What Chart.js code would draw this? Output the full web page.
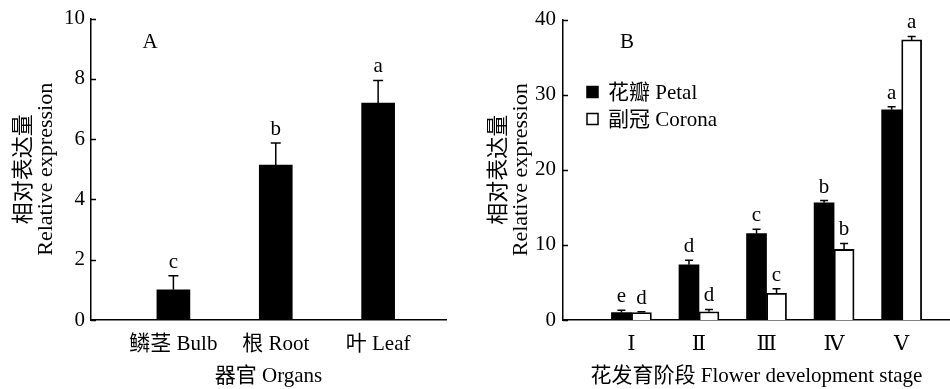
<!DOCTYPE html>
<html>
<head>
<meta charset="utf-8">
<title>Relative expression</title>
<script src="https://cdn.jsdelivr.net/npm/chart.js"></script>
<style>
  html, body { margin: 0; padding: 0; background: #fff; }
  #wrap { position: relative; width: 950px; height: 389px; }
  .panel { position: absolute; top: 0; width: 475px; height: 389px; }
</style>
</head>
<body>
<div id="wrap">
  <div class="panel" style="left:0"><canvas id="chartA" width="475" height="389"></canvas></div>
  <div class="panel" style="left:475px"><canvas id="chartB" width="475" height="389"></canvas></div>
</div>
<script>
// panel A: organs
const organs = ['鳞茎 Bulb', '根 Root', '叶 Leaf'];
const organMean = [1.0, 5.14, 7.2];
const organSd = [0.47, 0.73, 0.75];
const organLetters = ['c', 'b', 'a'];
const yTicksA = [0, 2, 4, 6, 8, 10];

// panel B: flower development stages
const stages = ['Ⅰ', 'Ⅱ', 'Ⅲ', 'Ⅳ', 'Ⅴ'];
const petalMean = [1.0, 7.35, 11.5, 15.6, 28.0];
const petalSd = [0.3, 0.6, 0.6, 0.3, 0.4];
const petalLetters = ['e', 'd', 'c', 'b', 'a'];
const coronaMean = [1.0, 1.1, 3.55, 9.4, 37.3];
const coronaSd = [0.1, 0.3, 0.6, 0.8, 0.45];
const coronaLetters = ['d', 'd', 'c', 'b', 'a'];
const yTicksB = [0, 10, 20, 30, 40];

const SERIF = "'Liberation Serif', 'Times New Roman', 'DejaVu Serif', 'Noto Sans CJK SC', serif";
Chart.defaults.font.family = SERIF;
Chart.defaults.font.size = 21;
Chart.defaults.color = '#000';

const toPoints = arr => arr.map((v, i) => ({ x: i, y: v }));

// error bars, letters, inward ticks, panel tag and legend
const decoPlugin = {
  id: 'deco',
  afterDatasetsDraw(chart, args, opts) {
    const ctx = chart.ctx;
    const y = chart.scales.y;
    const area = chart.chartArea;
    ctx.save();
    ctx.strokeStyle = '#000';
    ctx.fillStyle = '#000';
    ctx.lineWidth = 1.5;
    ctx.font = '21px ' + SERIF;
    ctx.textAlign = 'center';
    ctx.textBaseline = 'alphabetic';
    chart.data.datasets.forEach((ds, i) => {
      chart.getDatasetMeta(i).data.forEach((bar, j) => {
        const top = y.getPixelForValue(ds.data[j].y + ds.sd[j]);
        ctx.beginPath();
        ctx.moveTo(bar.x, bar.y);
        ctx.lineTo(bar.x, top);
        ctx.moveTo(bar.x - opts.cap, top);
        ctx.lineTo(bar.x + opts.cap, top);
        ctx.stroke();
        ctx.fillText(ds.letters[j], bar.x, top - 8);
      });
    });

    y.ticks.forEach(t => {
      const py = Math.round(y.getPixelForValue(t.value)) + 0.5;
      ctx.beginPath();
      ctx.moveTo(area.left, py);
      ctx.lineTo(area.left + 5, py);
      ctx.stroke();
    });

    ctx.textBaseline = 'middle';
    ctx.fillText(opts.tag, opts.tagX, opts.tagY);

    if (opts.legend) {
      ctx.textAlign = 'left';
      chart.data.datasets.forEach((ds, i) => {
        const ly = opts.legend.y + i * opts.legend.gap;
        ctx.fillStyle = ds.backgroundColor;
        ctx.fillRect(opts.legend.x, ly - 5.5, 11, 11);
        ctx.strokeRect(opts.legend.x, ly - 5.5, 11, 11);
        ctx.fillStyle = '#000';
        ctx.fillText(ds.label, opts.legend.x + 21, ly + 1);
      });
    }
    ctx.restore();
  }
};

function makeOptions(cfg) {
  return {
    responsive: false,
    animation: false,
    layout: { padding: cfg.padding },
    plugins: {
      legend: { display: false },
      tooltip: { enabled: false },
      deco: cfg.deco
    },
    scales: {
      x: {
        type: 'linear',
        offset: false,
        min: cfg.xMin,
        max: cfg.xMax,
        grid: { display: false, drawTicks: false },
        border: { display: true, color: '#000', width: 1.5 },
        afterBuildTicks: s => { s.ticks = cfg.labels.map((l, i) => ({ value: i })); },
        afterFit: s => { s.height = 69; },
        ticks: {
          padding: 12,
          autoSkip: false,
          maxRotation: 0,
          font: cfg.xTickFont,
          callback: v => cfg.labels[v]
        },
        title: { display: true, text: cfg.xTitle, padding: { top: 0, bottom: 0 }, font: { size: 21, lineHeight: 1.15 } }
      },
      y: {
        min: cfg.yTicks[0],
        max: cfg.yTicks[cfg.yTicks.length - 1],
        grid: { display: false, drawTicks: false },
        border: { display: true, color: '#000', width: 1.5 },
        afterBuildTicks: s => { s.ticks = cfg.yTicks.map(v => ({ value: v })); },
        afterFit: s => { s.width = cfg.yWidth; },
        ticks: { padding: cfg.yPad },
        title: {
          display: true,
          text: ['相对表达量', 'Relative expression'],
          padding: { top: 13, bottom: 0 },
          font: { size: 22, lineHeight: 1.0 }
        }
      }
    }
  };
}

new Chart(document.getElementById('chartA'), {
  type: 'bar',
  data: {
    datasets: [{
      label: '器官',
      data: toPoints(organMean),
      sd: organSd,
      letters: organLetters,
      backgroundColor: '#000',
      borderColor: '#000',
      borderWidth: 0,
      barThickness: 33
    }]
  },
  options: makeOptions({
    padding: { top: 17, right: 29, left: 0, bottom: 0 },
    labels: organs,
    xMin: -0.805,
    xMax: 2.663,
    xTitle: '器官 Organs',
    yTicks: yTicksA,
    yWidth: 91,
    yPad: 6,
    deco: { cap: 5, tag: 'A', tagX: 150, tagY: 42 }
  }),
  plugins: [decoPlugin]
});

new Chart(document.getElementById('chartB'), {
  type: 'bar',
  data: {
    datasets: [{
      label: '花瓣 Petal',
      data: toPoints(petalMean),
      sd: petalSd,
      letters: petalLetters,
      backgroundColor: '#000',
      borderColor: '#000',
      borderWidth: 0,
      barThickness: 20
    }, {
      label: '副冠 Corona',
      data: toPoints(coronaMean),
      sd: coronaSd,
      letters: coronaLetters,
      backgroundColor: '#fff',
      borderColor: '#000',
      borderWidth: 1.8,
      barThickness: 20
    }]
  },
  options: makeOptions({
    padding: { top: 19, right: 0, left: 0, bottom: 0 },
    labels: stages,
    xMin: -1.013,
    xMax: 4.716,
    xTitle: '花发育阶段 Flower development stage',
    xTickFont: { family: "'DejaVu Serif', 'Liberation Serif', 'Noto Sans CJK SC', serif", size: 21 },
    yTicks: yTicksB,
    yWidth: 88,
    yPad: 7,
    deco: { cap: 4, tag: 'B', tagX: 152, tagY: 42, legend: { x: 112, y: 92, gap: 27 } }
  }),
  plugins: [decoPlugin]
});
</script>
</body>
</html>
